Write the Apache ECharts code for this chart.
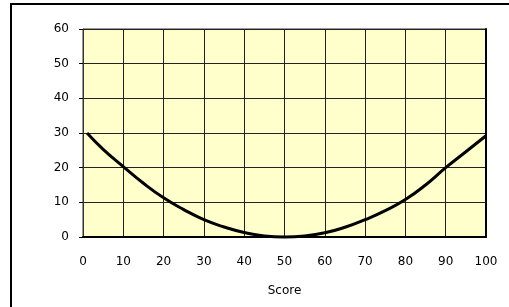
<!DOCTYPE html>
<html>
<head>
<meta charset="utf-8">
<script src="https://cdn.jsdelivr.net/npm/echarts@6/dist/echarts.min.js"></script>
<style>html,body{margin:0;padding:0;background:#fff;}#c{width:509px;height:307px;}</style>
</head>
<body>
<div id="c"></div>
<script>
const scores = [1, 5, 10, 15, 20, 25, 30, 35, 40, 45, 50, 55, 60, 65, 70, 75, 80, 85, 90, 95, 100];
const values = [30, 25.3, 20.3, 15.5, 11.3, 7.9, 5.0, 2.9, 1.3, 0.3, 0, 0.3, 1.2, 2.8, 5.0, 7.6, 10.8, 15.0, 20, 24.6, 29.2];
const xTicks = [0, 10, 20, 30, 40, 50, 60, 70, 80, 90, 100];
const yTicks = [0, 10, 20, 30, 40, 50, 60];
const xName = 'Score';

const chart = echarts.init(document.getElementById('c'), null, {renderer: 'canvas'});
const font = '"DejaVu Sans", Verdana, sans-serif';
chart.setOption({
  animation: false,
  backgroundColor: '#ffffff',
  graphic: [{
    type: 'rect', z: -10,
    shape: {x: 11, y: 4, width: 600, height: 400},
    style: {fill: 'none', stroke: '#000', lineWidth: 2}
  }],
  grid: {
    left: 83, top: 29, right: 23, bottom: 70,
    show: true, backgroundColor: '#FFFFCC', borderColor: '#333', borderWidth: 1
  },
  xAxis: {
    type: 'value', min: xTicks[0], max: xTicks[xTicks.length - 1], interval: 10,
    name: xName, nameLocation: 'middle', nameGap: 48,
    nameTextStyle: {fontFamily: font, fontSize: 12, color: '#000'},
    axisLine: {show: true, onZero: false, lineStyle: {color: '#000', width: 2}},
    axisTick: {show: false},
    axisLabel: {margin: 19, fontFamily: font, fontSize: 12, color: '#000'},
    splitLine: {show: true, lineStyle: {color: '#222', width: 1}}
  },
  yAxis: [{
    type: 'value', min: yTicks[0], max: yTicks[yTicks.length - 1], interval: 10,
    axisLine: {show: true, lineStyle: {color: '#333', width: 1}},
    axisTick: {show: true, length: 4, lineStyle: {color: '#000'}},
    axisLabel: {margin: 14, fontFamily: font, fontSize: 12, color: '#000'},
    splitLine: {show: true, lineStyle: {color: '#222', width: 1}}
  }, {
    type: 'value', position: 'right', min: 0, max: 60, interval: 10,
    axisLine: {show: true, lineStyle: {color: '#000', width: 2}},
    axisTick: {show: false}, axisLabel: {show: false}, splitLine: {show: false}
  }],
  series: [{
    type: 'line',
    data: scores.map((s, i) => [s, values[i]]),
    smooth: 0.5,
    showSymbol: false,
    lineStyle: {color: '#000', width: 3},
    clip: false
  }]
});
</script>
</body>
</html>
